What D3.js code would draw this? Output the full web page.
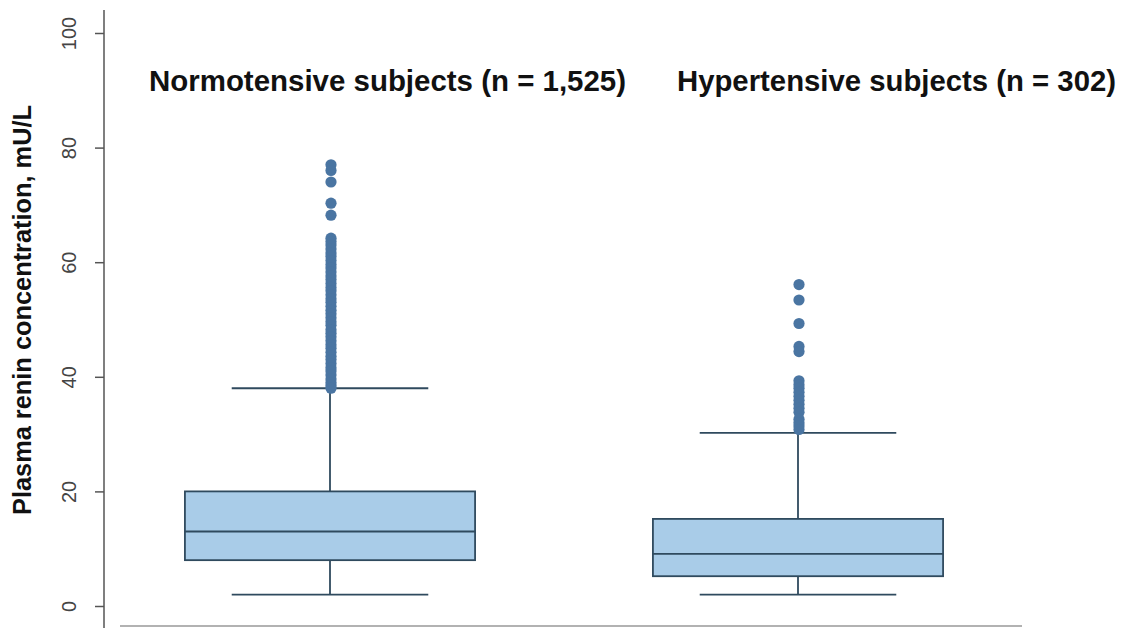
<!DOCTYPE html>
<html>
<head>
    <meta charset="utf-8">
    <style>
        body {
            margin: 0;
            background: #fff;
        }

        svg {
            font-family: 'Liberation Sans', Arial, sans-serif;
        }

        .y .domain {
            stroke: #555;
            stroke-width: 1.5;
        }

        .y .tick line {
            stroke: #555;
            stroke-width: 1.5;
        }

        .y .tick text {
            font-size: 20px;
            fill: #444;
        }

        .group-title {
            font-size: 29px;
            font-weight: bold;
            fill: #111;
        }

        .axis-title {
            font-size: 26px;
            font-weight: bold;
            fill: #111;
        }
    </style>
</head>
<body>
    <svg width="1122" height="628"></svg>

<script src="https://d3js.org/d3.v7.min.js"></script>
<script>
    // groups and their summary stats (mU/L)
    let groups = ["Normotensive", "Hypertensive"];
    let titles = ["Normotensive subjects (n = 1,525)", "Hypertensive subjects (n = 302)"];
    let whiskerLow = [2, 2];
    let q1 = [8, 5.2];
    let median = [13, 9.1];
    let q3 = [20, 15.2];
    let whiskerHigh = [38, 30.2];

    // outliers
    let outliersNormo = [77, 76, 74, 70.3, 68.2, 64.2, 63.6, 63, 62.3, 61.6, 61, 60.3, 59.6, 59, 58.3,
        57.6, 57, 56.3, 55.6, 55, 54.3, 53.6, 53, 52.3, 51.6, 51, 50.3, 49.6, 49, 48.2, 47.6, 47,
        46.3, 45.6, 45, 44.3, 43.6, 43, 42.3, 41.6, 41, 40.3, 39.6, 39, 38.5, 38];
    let outliersHyper = [56.1, 53.4, 49.3, 45.3, 44.4, 39.3, 38.6, 38, 37.3, 36.6, 35.9, 35.2, 34.5,
        33.8, 32.6, 32, 31.4, 30.8];

    let yTicks = [0, 20, 40, 60, 80, 100];

    let svg = d3.select("svg");

    let y = d3.scaleLinear()
        .domain([0, 100])
        .range([606, 33]);

    let x = d3.scaleBand()
        .domain(groups)
        .range([96, 1032]);

    let boxW = x.bandwidth() * 0.62;
    let capW = x.bandwidth() * 0.42;

    let stats = groups.map((g, i) => ({
        group: g,
        lo: whiskerLow[i], q1: q1[i], med: median[i], q3: q3[i], hi: whiskerHigh[i],
        outliers: i == 0 ? outliersNormo : outliersHyper
    }));

    // bottom baseline
    svg.append("line")
        .attr("x1", 120).attr("x2", 1022)
        .attr("y1", 626).attr("y2", 626)
        .attr("stroke", "#999")
        .attr("stroke-width", 1.5);

    // y axis
    let yAxis = svg.append("g")
        .attr("class", "y axis")
        .attr("transform", "translate(104,0)")
        .call(d3.axisLeft(y).tickValues(yTicks).tickSize(9).tickSizeOuter(0));

    yAxis.select(".domain").attr("d", "M0,10V628");

    yAxis.selectAll(".tick text")
        .attr("transform", "rotate(-90)")
        .attr("x", 0)
        .attr("y", -28)
        .attr("dy", 0)
        .attr("text-anchor", "middle");

    svg.append("text")
        .attr("class", "axis-title")
        .attr("transform", "translate(31,310) rotate(-90)")
        .attr("text-anchor", "middle")
        .attr("textLength", 410)
        .attr("lengthAdjust", "spacingAndGlyphs")
        .text("Plasma renin concentration, mU/L");

    let box = svg.append("g")
        .selectAll("g")
        .data(stats)
        .join("g")
        .attr("transform", d => `translate(${x(d.group) + x.bandwidth() / 2},0)`);

    let lineColor = "#2f4a5e";

    // whisker stems
    box.append("line")
        .attr("x1", 0).attr("x2", 0)
        .attr("y1", d => y(d.lo)).attr("y2", d => y(d.hi))
        .attr("stroke", lineColor)
        .attr("stroke-width", 1.8);

    // caps
    box.selectAll(".cap")
        .data(d => [d.lo, d.hi])
        .join("line")
        .attr("class", "cap")
        .attr("x1", -capW / 2).attr("x2", capW / 2)
        .attr("y1", d => y(d)).attr("y2", d => y(d))
        .attr("stroke", lineColor)
        .attr("stroke-width", 1.8);

    // box
    box.append("rect")
        .attr("x", -boxW / 2)
        .attr("width", boxW)
        .attr("y", d => y(d.q3))
        .attr("height", d => y(d.q1) - y(d.q3))
        .attr("fill", "#a9cce8")
        .attr("stroke", lineColor)
        .attr("stroke-width", 1.8);

    // median
    box.append("line")
        .attr("x1", -boxW / 2).attr("x2", boxW / 2)
        .attr("y1", d => y(d.med)).attr("y2", d => y(d.med))
        .attr("stroke", lineColor)
        .attr("stroke-width", 1.8);

    // outliers
    box.selectAll("circle")
        .data(d => d.outliers)
        .join("circle")
        .attr("cx", 1)
        .attr("cy", d => y(d))
        .attr("r", 5.6)
        .attr("fill", "#4a75a2");

    // group titles
    svg.selectAll(".group-title")
        .data(titles)
        .join("text")
        .attr("class", "group-title")
        .attr("x", (d, i) => i == 0 ? 149 : 677)
        .attr("y", 91)
        .attr("textLength", (d, i) => i == 0 ? 477 : 439)
        .attr("lengthAdjust", "spacingAndGlyphs")
        .text(d => d);
</script>
</body>
</html>
